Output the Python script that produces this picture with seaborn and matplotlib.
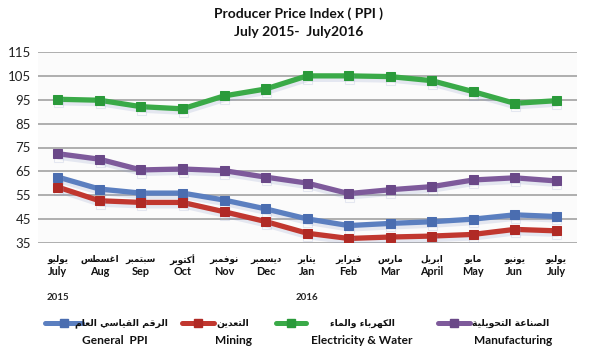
import matplotlib
matplotlib.use("Agg")
import matplotlib.pyplot as plt
import matplotlib.patheffects as pe
from matplotlib.lines import Line2D
import numpy as np
import pandas as pd
import seaborn as sns

# ---------------- data ----------------
months_en = ["July", "Aug", "Sep", "Oct", "Nov", "Dec", "Jan", "Feb", "Mar", "April", "May", "Jun", "July"]
months_ar = ["يوليو", "اغسطس", "سبتمبر", "أكتوبر", "نوفمبر", "ديسمبر", "يناير",
             "فبراير", "مارس", "ابريل", "مايو", "يونيو", "يوليو"]
general_ppi = [62.6, 57.6, 55.9, 55.9, 53.0, 49.3, 45.1, 42.3, 43.2, 43.9, 45.0, 46.8, 46.1]
mining = [58.4, 52.7, 52.0, 52.0, 48.1, 44.0, 39.1, 36.9, 37.5, 37.9, 38.6, 40.7, 40.1]
electricity = [95.2, 94.8, 92.1, 91.2, 96.6, 99.5, 105.0, 105.0, 104.7, 103.0, 98.4, 93.5, 94.6]
manufacturing = [72.4, 70.1, 65.6, 66.0, 65.3, 62.6, 60.1, 55.7, 57.3, 58.6, 61.4, 62.3, 61.0]
series_en = ["General  PPI", "Mining", "Electricity & Water", "Manufacturing"]
series_ar = ["الرقم القياسي العام", "التعدين", "الكهرباء والماء", "الصناعة التحويلية"]
y_ticks = [35, 45, 55, 65, 75, 85, 95, 105, 115]
years = ["2015", "2016"]
title_lines = ["Producer Price Index ( PPI )", "July 2015-  July2016"]

colors = ["#5b7fc0", "#c1372f", "#3aaa48", "#7e5a9b"]
marker_colors = ["#4a6db0", "#b02a25", "#2a9a3a", "#6a4888"]

# ---------------- minimal Arabic shaping ----------------
_dual = {"ب": 0xFE8F, "ت": 0xFE95, "ث": 0xFE99, "ج": 0xFE9D, "ح": 0xFEA1, "خ": 0xFEA5,
         "س": 0xFEB1, "ش": 0xFEB5, "ص": 0xFEB9, "ض": 0xFEBD, "ط": 0xFEC1, "ظ": 0xFEC5,
         "ع": 0xFEC9, "غ": 0xFECD, "ف": 0xFED1, "ق": 0xFED5, "ك": 0xFED9, "ل": 0xFEDD,
         "م": 0xFEE1, "ن": 0xFEE5, "ه": 0xFEE9, "ي": 0xFEF1, "ئ": 0xFE89}
_right = {"آ": 0xFE81, "أ": 0xFE83, "ؤ": 0xFE85, "إ": 0xFE87, "ا": 0xFE8D, "ة": 0xFE93,
          "د": 0xFEA9, "ذ": 0xFEAB, "ر": 0xFEAD, "ز": 0xFEAF, "و": 0xFEED, "ى": 0xFEEF}
_other = {"ء": 0xFE80}


def shape(s):
    out = []
    n = len(s)
    for i, c in enumerate(s):
        prev = s[i - 1] if i > 0 else ""
        nxt = s[i + 1] if i < n - 1 else ""
        joins_prev = prev in _dual and (c in _dual or c in _right)
        if c in _dual:
            joins_next = nxt in _dual or nxt in _right
            base = _dual[c]
            if joins_prev and joins_next:
                out.append(chr(base + 3))
            elif joins_prev:
                out.append(chr(base + 1))
            elif joins_next:
                out.append(chr(base + 2))
            else:
                out.append(chr(base))
        elif c in _right:
            base = _right[c]
            out.append(chr(base + 1) if joins_prev else chr(base))
        elif c in _other:
            out.append(chr(_other[c]))
        else:
            out.append(c)
    return "".join(reversed(out))


# ---------------- figure ----------------
sns.set_style("white")
plt.rcParams["font.family"] = ["Lato", "DejaVu Sans"]
LAT = ["Lato", "DejaVu Sans"]
AR = ["DejaVu Sans"]

fig = plt.figure(figsize=(5.91, 3.55), dpi=100)
fig.patch.set_facecolor("white")
ax = fig.add_axes([38 / 591, 1 - 243 / 355, (577 - 38) / 591, (243 - 52) / 355])
ax.set_facecolor("#fbfbfb")

x = np.arange(len(months_en))
df = pd.DataFrame({
    "x": np.tile(x, 4),
    "value": general_ppi + mining + electricity + manufacturing,
    "series": np.repeat(series_en, len(x)),
})

shadow = [pe.SimpleLineShadow(offset=(0.5, -2.5), shadow_color="#8a98c8", alpha=0.2, rho=1.0),
          pe.Normal()]
for i, name in enumerate(series_en):
    sub = df[df["series"] == name]
    sns.lineplot(data=sub, x="x", y="value", ax=ax, color=colors[i], linewidth=3.8,
                 marker="s", markersize=6.5, markerfacecolor=marker_colors[i],
                 markeredgecolor=marker_colors[i], legend=False, zorder=3 + i,
                 path_effects=shadow)

ax.set_xlim(-0.48, 12.5)
ax.set_ylim(35, 115)
ax.set_yticks(y_ticks)
ax.set_yticklabels([str(v) for v in y_ticks], fontsize=9.5, family=LAT, color="#222222")
ax.set_xticks([])
ax.set_xlabel("")
ax.set_ylabel("")
ax.grid(axis="y", color="#a8a8a8", linewidth=1.3)
ax.set_axisbelow(True)
for s in ax.spines.values():
    s.set_visible(False)
ax.tick_params(axis="y", length=0, pad=5)

# month labels
for xi, en, ar in zip(x, months_en, months_ar):
    ax.text(xi, -0.085, shape(ar), transform=ax.get_xaxis_transform(), ha="center", va="center",
            fontsize=6.3, family=AR, fontweight="bold", color="#111111")
    ax.text(xi, -0.15, en, transform=ax.get_xaxis_transform(), ha="center", va="center",
            fontsize=7.8, family=LAT, fontweight="bold", color="#111111")

# years
ax.text(0, -0.285, years[0], transform=ax.get_xaxis_transform(), ha="center", va="center",
        fontsize=7, family=LAT, fontweight="bold")
ax.text(6, -0.285, years[1], transform=ax.get_xaxis_transform(), ha="center", va="center",
        fontsize=7, family=LAT, fontweight="bold")

# title
fig.text(0.505, 1 - 14 / 355, title_lines[0], ha="center", va="center", fontsize=10,
         fontweight="bold", family=LAT, color="#111111")
fig.text(0.505, 1 - 32 / 355, title_lines[1], ha="center", va="center", fontsize=10,
         fontweight="bold", family=LAT, color="#111111")

# custom legend
leg_lines = [(45, 82), (182, 214), (276, 306), (438, 470)]
leg_ar_x = [121, 233, 362, 511]
leg_en_x = [115, 233, 362, 513]
for i in range(4):
    x0, x1 = leg_lines[i]
    yl = 1 - 323 / 355
    fig.add_artist(Line2D([x0 / 591, x1 / 591], [yl, yl], transform=fig.transFigure,
                          color=colors[i], linewidth=3.6))
    fig.add_artist(Line2D([(x0 + x1) / 2 / 591], [yl], transform=fig.transFigure,
                          marker="s", markersize=5.5, color=marker_colors[i], linestyle="none"))
    fig.text(leg_ar_x[i] / 591, yl, shape(series_ar[i]), ha="center", va="center",
             fontsize=6.7, family=AR, fontweight="bold", color="#111111")
    fig.text(leg_en_x[i] / 591, 1 - 340 / 355, series_en[i], ha="center", va="center",
             fontsize=8.6, family=LAT, fontweight="bold", color="#111111")

fig.savefig("out.png", dpi=100)
